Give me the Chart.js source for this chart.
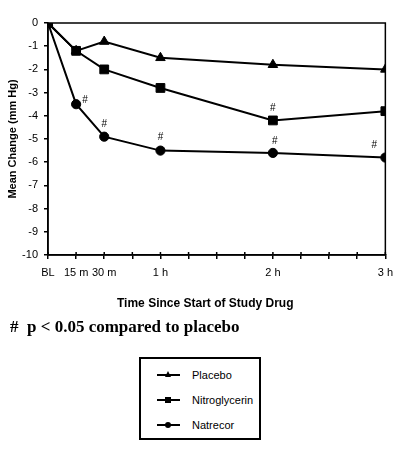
<!DOCTYPE html>
<html>
<head>
<meta charset="utf-8">
<script src="https://cdn.jsdelivr.net/npm/chart.js@4"></script>
<style>
  body { margin: 0; background: #fff; width: 400px; height: 454px; position: relative; overflow: hidden;
         font-family: "Liberation Sans", Arial, sans-serif; color: #000; }
  #wrap { position: absolute; left: 0; top: 0; width: 400px; height: 315px; }
  #xtitle { position: absolute; left: 117px; top: 296px; font-size: 12px; font-weight: bold; line-height: 14px; white-space: nowrap; }
  #note { position: absolute; left: 10px; top: 317px; font: bold 17px "Liberation Serif", "Times New Roman", serif; white-space: pre; }
  #legend { position: absolute; left: 139px; top: 357px; width: 118px; height: 79px; border: 2px solid #000; }
  .row { position: absolute; left: 16px; height: 12px; font-size: 11px; line-height: 12px; white-space: nowrap; }
  .sym { position: absolute; left: 0; top: 5px; width: 23px; height: 2px; background: #000; }
  .sym i { position: absolute; left: 8px; top: -2px; width: 6px; height: 6px; background: #000; }
  .sym i.circle { border-radius: 50%; }
  .sym i.triangle { background: none; width: 0; height: 0; left: 8px; top: -3px;
                    border-left: 3.5px solid transparent; border-right: 3.5px solid transparent; border-bottom: 6px solid #000; }
  .row span { position: absolute; left: 35px; top: 0; }
</style>
</head>
<body>
<div id="wrap"><canvas id="chart"></canvas></div>
<div id="xtitle"></div>
<div id="note"></div>
<div id="legend"></div>
<script>
// x positions in minutes since start, and the labels shown under them
const timeMinutes = [0, 15, 30, 60, 120, 180];
const tickLabels = ["BL", "15 m", "30 m", "1 h", "2 h", "3 h"];

const seriesNames = ["Placebo", "Nitroglycerin", "Natrecor"];
const placebo = [0, -1.2, -0.8, -1.5, -1.8, -2.0];
const nitroglycerin = [0, -1.2, -2.0, -2.8, -4.2, -3.8];
const natrecor = [0, -3.5, -4.9, -5.5, -5.6, -5.8];

// "#" marks: which series and which time point
const sigSeries = [2, 2, 2, 2, 2, 1];
const sigTimes = [15, 30, 60, 120, 180, 120];

const yTitle = "Mean Change (mm Hg)";
const xTitle = "Time Since Start of Study Drug";
const footnote = "#  p < 0.05 compared to placebo";

const seriesData = [placebo, nitroglycerin, natrecor];
const markers = ["triangle", "rect", "circle"];
const radii = [5.5, 6.2, 4.6];
const hashOffsets = [[9, -4], [0, -12], [0, -13], [2, -12], [-11, -12], [0, -12]];

const font = "'Liberation Sans', Arial, sans-serif";

const hashPlugin = {
  id: "hashMarks",
  afterDatasetsDraw(chart) {
    const { ctx, scales: { x, y } } = chart;
    ctx.save();
    ctx.font = "10px " + font;
    ctx.fillStyle = "#000";
    ctx.textAlign = "center";
    ctx.textBaseline = "middle";
    sigSeries.forEach((s, i) => {
      const v = seriesData[s][timeMinutes.indexOf(sigTimes[i])];
      ctx.fillText("#", x.getPixelForValue(sigTimes[i]) + hashOffsets[i][0],
                        y.getPixelForValue(v) + hashOffsets[i][1]);
    });
    ctx.restore();
  }
};

// top and right edges of the plot box, and the small x ticks poking above the axis
const framePlugin = {
  id: "frame",
  beforeDatasetsDraw(chart) {
    const { ctx, chartArea: a, scales: { x } } = chart;
    ctx.save();
    ctx.strokeStyle = "#000";
    ctx.lineWidth = 1.5;
    ctx.strokeRect(a.left, a.top, a.right - a.left, a.bottom - a.top);
    ctx.beginPath();
    x.ticks.forEach(t => {
      const px = x.getPixelForValue(t.value);
      ctx.moveTo(px, a.bottom);
      ctx.lineTo(px, a.bottom - 3);
    });
    ctx.stroke();
    ctx.restore();
  }
};

Chart.defaults.font.family = font;
Chart.defaults.color = "#000";

new Chart(document.getElementById("chart"), {
  type: "line",
  data: {
    datasets: seriesNames.map((name, i) => ({
      label: name,
      data: timeMinutes.map((t, j) => ({ x: t, y: seriesData[i][j] })),
      borderColor: "#000",
      backgroundColor: "#000",
      borderWidth: 2,
      pointStyle: markers[i],
      pointRadius: radii[i],
      pointBorderWidth: 1,
      tension: 0,
      order: i === 0 ? 2 : 1
    }))
  },
  options: {
    responsive: true,
    maintainAspectRatio: false,
    animation: false,
    layout: { padding: { top: 23, right: 13, left: 0, bottom: 0 } },
    plugins: { legend: { display: false }, tooltip: { enabled: false } },
    scales: {
      x: {
        type: "linear",
        min: 0,
        max: 180,
        ticks: {
          stepSize: 15,
          autoSkip: false,
          maxRotation: 0,
          padding: 7,
          font: { size: 11 },
          callback: v => {
            const i = timeMinutes.indexOf(v);
            return i >= 0 ? tickLabels[i] : "";
          }
        },
        grid: { drawOnChartArea: false, color: "#000", tickLength: 4, lineWidth: 1.5 },
        border: { color: "#000", width: 1.5 },
        afterFit: s => { s.height = 60; }
      },
      y: {
        min: -10,
        max: 0,
        ticks: { stepSize: 1, padding: 6, font: { size: 11 } },
        grid: { drawOnChartArea: false, color: "#000", tickLength: 4, lineWidth: 1.5 },
        border: { color: "#000", width: 1.5 },
        title: {
          display: true,
          text: yTitle,
          font: { size: 11, weight: "bold" },
          padding: { top: 6, bottom: 0 }
        },
        afterFit: s => { s.width = 48; }
      }
    }
  },
  plugins: [framePlugin, hashPlugin]
});

document.getElementById("xtitle").textContent = xTitle;
document.getElementById("note").textContent = footnote;

const legend = document.getElementById("legend");
const legendShapes = ["triangle", "square", "circle"];
seriesNames.forEach((name, i) => {
  const row = document.createElement("div");
  row.className = "row";
  row.style.top = (10 + i * 25) + "px";
  row.innerHTML = '<div class="sym"><i class="' + legendShapes[i] + '"></i></div><span></span>';
  row.querySelector("span").textContent = name;
  legend.appendChild(row);
});
</script>
</body>
</html>
